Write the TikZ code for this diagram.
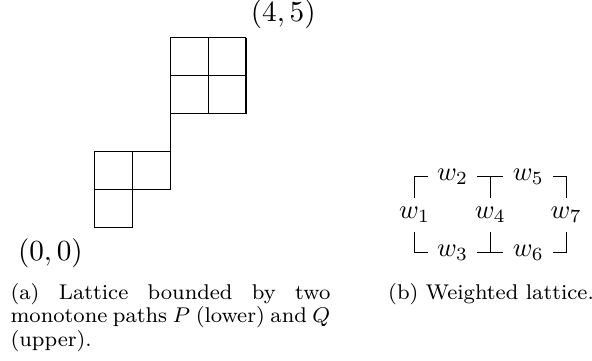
\documentclass[tikz,border=0pt]{standalone}
\usetikzlibrary{positioning}

\begin{document}
\begin{tikzpicture}[x=5mm, y=5mm,
  weight/.style={inner sep=3.33pt},
  coord label/.style={inner sep=3.33pt, font=\fontsize{11.2}{13}\selectfont},
  caption/.style={inner sep=0pt, anchor=north west, align=justify,
    font=\fontsize{8}{8.8}\selectfont}]
  \useasboundingbox (-2.49,-3.5) rectangle (13.13,6);

  % lattice: P is the lower path, Q the upper one
  \draw (0,0) -| (1,1) -| (2,3) -| (4,5);
  \draw (0,0) |- (2,2) |- (4,5);
  \draw (0,1) -| (1,2);
  \draw (2,4) -- (4,4) (3,3) -- (3,5);
  \node[coord label, below left, xshift=-0.8pt, yshift=-0.6pt] (start) at (0,0) {$(0,0)$};
  \node[coord label, above right, xshift=-1.7pt] (end) at (4,5) {$(4,5)$};

  % weighted lattice
  \begin{scope}[shift={(8.45,-0.665)}]
    \node[weight] (w1) at (0,1) {$w_1$};
    \node[weight] (w2) at (1,2) {$w_2$};
    \node[weight] (w3) at (1,0) {$w_3$};
    \node[weight] (w4) at (2,1) {$w_4$};
    \node[weight] (w5) at (3,2) {$w_5$};
    \node[weight] (w6) at (3,0) {$w_6$};
    \node[weight] (w7) at (4,1) {$w_7$};
    \draw (w1) |- (w2);
    \draw (w2) -| (w4);
    \draw (w4) |- (w5);
    \draw (w5) -| (w7);
    \draw (w1) |- (w3);
    \draw (w3) -| (w4);
    \draw (w4) |- (w6);
    \draw (w6) -| (w7);
  \end{scope}

  \node[caption, text width=120pt] (capa) at (-2.224,-1.457)
    {\spaceskip=0.85\fontdimen2\font plus \fontdimen3\font minus \fontdimen4\font
     (a) Lattice bounded by two\linebreak monotone paths $P$ (lower) and~$Q$\linebreak (upper).};
  \node[caption] (capb) at (7.74,-1.457) {(b) Weighted lattice.};
\end{tikzpicture}
\end{document}
